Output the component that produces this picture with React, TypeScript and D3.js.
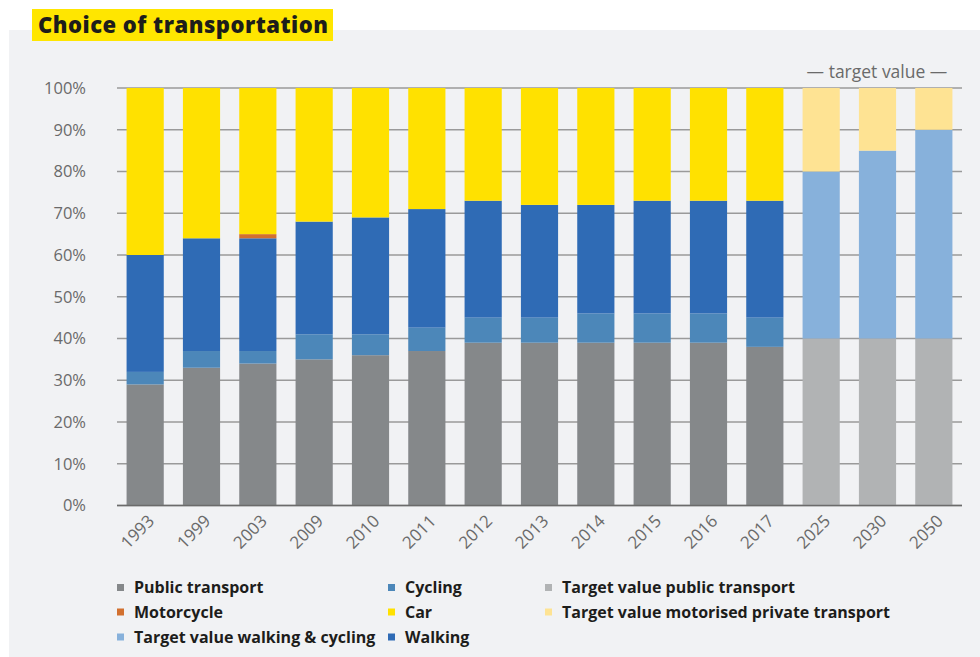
import React from "react";
import * as d3 from "d3";

const years = ["1993","1999","2003","2009","2010","2011","2012","2013","2014","2015","2016","2017","2025","2030","2050"];
const publicTransport = [29,33,34,35,36,37,39,39,39,39,39,38,0,0,0];
const cycling = [3,4,3,6,5,5.6,6,6,7,7,7,7,0,0,0];
const walking = [28,27,27,27,28,28.4,28,27,26,27,27,28,0,0,0];
const motorcycle = [0,0,1,0,0,0,0,0,0,0,0,0,0,0,0];
const car = [40,36,35,32,31,29,27,28,28,27,27,27,0,0,0];
const targetPublic = [0,0,0,0,0,0,0,0,0,0,0,0,40,40,40];
const targetWalkCycle = [0,0,0,0,0,0,0,0,0,0,0,0,40,45,50];
const targetMotorised = [0,0,0,0,0,0,0,0,0,0,0,0,20,15,10];
const yTicks = [0,10,20,30,40,50,60,70,80,90,100];

const seriesDefs = [
  { key: "Public transport", values: publicTransport, color: "#85888a" },
  { key: "Target value public transport", values: targetPublic, color: "#b1b3b4" },
  { key: "Cycling", values: cycling, color: "#4c87b9" },
  { key: "Target value walking & cycling", values: targetWalkCycle, color: "#87b1db" },
  { key: "Walking", values: walking, color: "#2f6bb5" },
  { key: "Motorcycle", values: motorcycle, color: "#d2702f" },
  { key: "Car", values: car, color: "#ffe100" },
  { key: "Target value motorised private transport", values: targetMotorised, color: "#fee393" },
];

const legendItems = [
  { label: "Public transport", color: "#85888a", col: 0, row: 0 },
  { label: "Motorcycle", color: "#d2702f", col: 0, row: 1 },
  { label: "Target value walking & cycling", color: "#87b1db", col: 0, row: 2 },
  { label: "Cycling", color: "#4c87b9", col: 1, row: 0 },
  { label: "Car", color: "#ffe100", col: 1, row: 1 },
  { label: "Walking", color: "#2f6bb5", col: 1, row: 2 },
  { label: "Target value public transport", color: "#b1b3b4", col: 2, row: 0 },
  { label: "Target value motorised private transport", color: "#fee393", col: 2, row: 1 },
];

const FONT = "'Open Sans', 'Noto Sans', sans-serif";

export default function App() {
  const W = 980, H = 657;
  const x = d3.scaleBand<string>().domain(years).range([117, 962]).paddingInner(0.34).paddingOuter(0.17);
  const y = d3.scaleLinear().domain([0, 100]).range([505.5, 88]);

  const table = years.map((yr, i) => {
    const o: any = { year: yr };
    seriesDefs.forEach((s) => (o[s.key] = s.values[i]));
    return o;
  });
  const stacked = d3.stack().keys(seriesDefs.map((s) => s.key))(table);

  const legendX = [117, 388, 545];
  const legendY = [587.5, 612, 637];

  return (
    <svg width={W} height={H} style={{ position: "absolute", left: 0, top: 0 }}>
      <rect x={9} y={30} width={W - 9} height={H - 30} fill="#f1f2f4" />
      <rect x={32} y={9} width={301} height={32} fill="#ffe600" />
      <text x={38} y={33} fontFamily={FONT} fontWeight={800} fontSize={22} fill="#1d1d1b" textLength={290} lengthAdjust="spacing">
        Choice of transportation
      </text>

      {yTicks.map((t) => (
        <g key={t}>
          <line x1={117} x2={962} y1={y(t)} y2={y(t)} stroke="#9a9a9a" strokeWidth={1.5} />
          <text x={86} y={y(t)} dy="0.35em" textAnchor="end" fontFamily={FONT} fontSize={16.5} fill="#6a6a6a">
            {t}%
          </text>
        </g>
      ))}

      {stacked.map((layer, li) => (
        <g key={layer.key} fill={seriesDefs[li].color}>
          {layer.map((d, i) =>
            d[1] - d[0] > 0 ? (
              <rect key={i} x={x(years[i])} width={x.bandwidth()} y={y(d[1])} height={y(d[0]) - y(d[1])} />
            ) : null
          )}
        </g>
      ))}

      <line x1={117} x2={962} y1={y(0)} y2={y(0)} stroke="#6b6b6b" strokeWidth={1.5} />

      {years.map((yr) => {
        const cx = (x(yr) as number) + x.bandwidth() / 2 + 6;
        return (
          <text key={yr} transform={`translate(${cx},${518}) rotate(-45)`} textAnchor="end" dy="0.35em" fontFamily={FONT} fontSize={17} fill="#6a6a6a">
            {yr}
          </text>
        );
      })}

      <text x={877} y={72} dy="0.35em" textAnchor="middle" fontFamily={FONT} fontSize={17.5} fill="#6a6a6a">
        — target value —
      </text>

      {legendItems.map((it) => (
        <g key={it.label}>
          <rect x={legendX[it.col]} y={legendY[it.row] - 3.5} width={7} height={7} fill={it.color} />
          <text x={legendX[it.col] + 17} y={legendY[it.row]} dy="0.35em" fontFamily={FONT} fontWeight={700} fontSize={16} fill="#1d1d1b">
            {it.label}
          </text>
        </g>
      ))}
    </svg>
  );
}
